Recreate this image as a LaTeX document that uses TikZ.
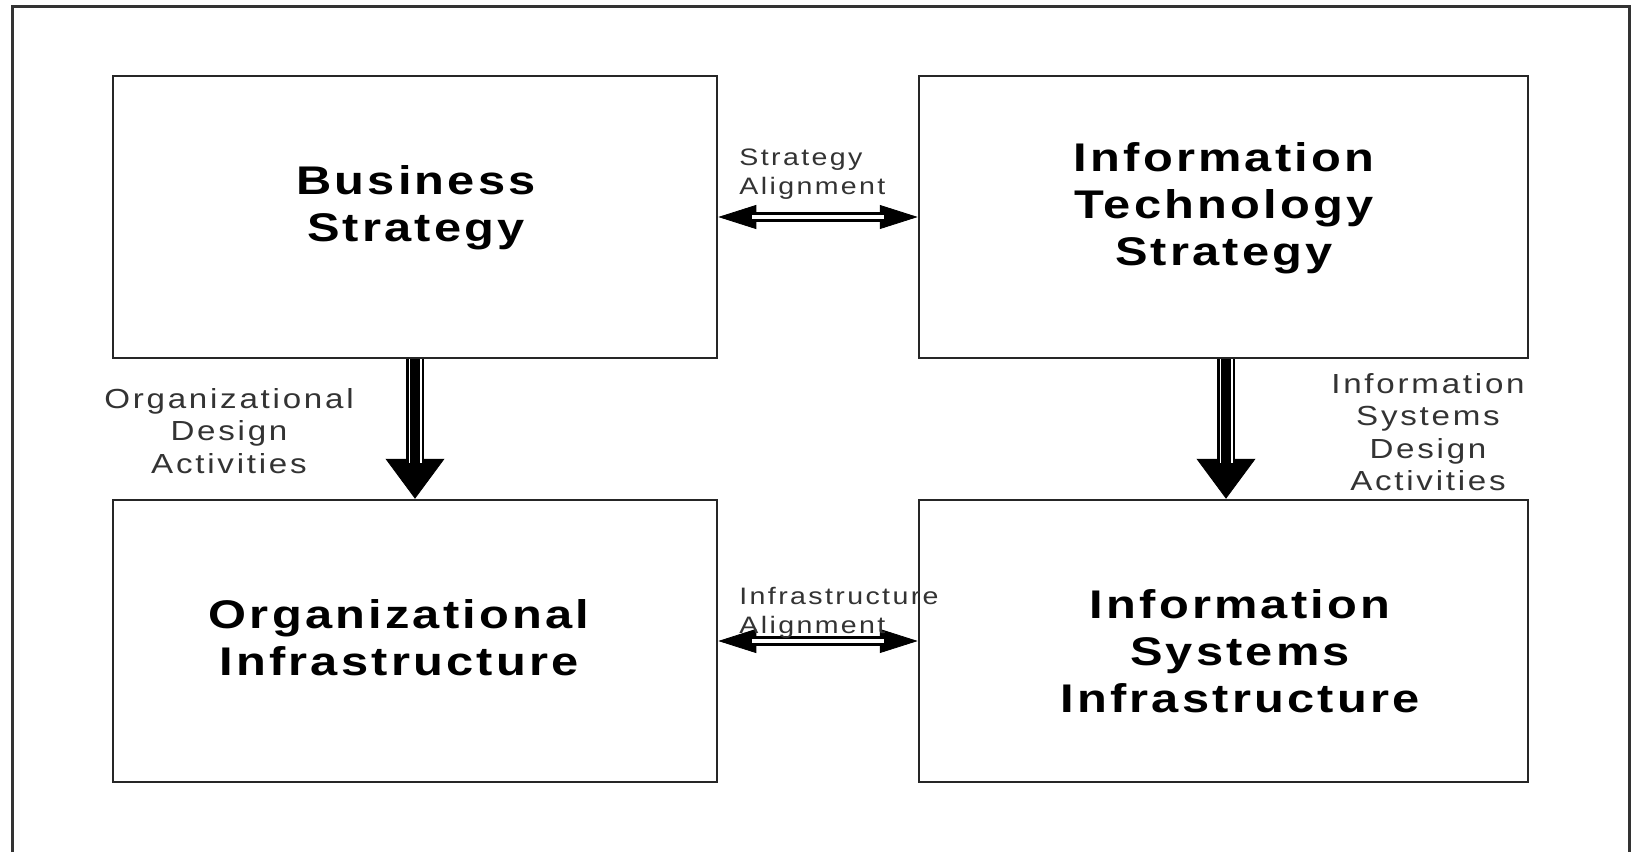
\documentclass[tikz,border=0pt]{standalone}
\usepackage{fontspec}
\setmainfont{Liberation Sans}
\newfontfamily\titlefont{Liberation Sans}[FakeStretch=1.22, LetterSpace=8]
\newfontfamily\labelfont{Liberation Sans}[FakeStretch=1.2, LetterSpace=10]
\usetikzlibrary{arrows.meta}

\tikzset{
  box/.style={draw=black!85, line width=1.25pt, minimum height=141pt, inner sep=0pt},
  title/.style={align=center, inner sep=0pt, font=\titlefont\bfseries\fontsize{20}{23.5}\selectfont},
  lbl/.style={inner sep=0pt, text=black!80, font=\labelfont\fontsize{13.8}{16.2}\selectfont},
  alnlbl/.style={inner sep=0pt, text=black!80, align=left, anchor=west,
                 font=\labelfont\fontsize{11.9}{14.3}\selectfont},
  htip/.style={line width=0.4pt, {Triangle[length=19pt,width=12pt]}-{Triangle[length=19pt,width=12pt]}},
  hshaft/.style={draw=black, line width=1.375pt, double=white, double distance=2.25pt,
                 shorten <=17pt, shorten >=17pt},
  vtip/.style={line width=0.4pt, -{Triangle[length=20pt,width=29.5pt]}},
  vouter/.style={draw=black, line width=1.2pt, double=white, double distance=6.5pt, shorten >=18pt},
  vinner/.style={draw=black, line width=4.8pt, shorten >=18pt}
}

\begin{document}
\begin{tikzpicture}[x=0.5pt, y=-0.5pt]
  \useasboundingbox (0,0) rectangle (1634,852);
  \fill[white] (0,0) rectangle (1634,852);

  % outer frame, open at the bottom edge
  \draw[black!80, line width=1.5pt] (12,852) -- (12,6) -- (1629,6) -- (1629,852);

  % the four domains
  \node[box, minimum width=302pt]   (bs)  at (415,217)    {};
  \node[box, minimum width=304.5pt] (its) at (1223.5,217) {};
  \node[box, minimum width=302pt]   (oi)  at (415,641)    {};
  \node[box, minimum width=304.5pt] (isi) at (1223.5,641) {};

  \node[title] (bst)  at (416,208)  {Business\\Strategy};
  \node[title] (itst) at (1224,208) {Information\\Technology\\Strategy};
  \node[title] (oit)  at (399,638)  {Organizational\\Infrastructure};
  \node[title] (isit) at (1240,651) {Information\\Systems\\Infrastructure};

  % horizontal alignment links
  \draw[htip] (bs.east) -- (its.west);
  \draw[hshaft] (bs.east) -- (its.west);
  \draw[htip] (oi.east) -- (isi.west);
  \draw[hshaft] (oi.east) -- (isi.west);

  % vertical design links
  \draw[vtip] (bs.south) -- (oi.north);
  \draw[vouter] (bs.south) -- (oi.north);
  \draw[vinner] (bs.south) -- (oi.north);
  \draw[vtip] ([xshift=1.25pt]its.south) -- ([xshift=1.25pt]isi.north);
  \draw[vouter] ([xshift=1.25pt]its.south) -- ([xshift=1.25pt]isi.north);
  \draw[vinner] ([xshift=1.25pt]its.south) -- ([xshift=1.25pt]isi.north);

  % link labels
  \node[alnlbl] (sal) at (739,174) {Strategy\\Alignment};
  \node[alnlbl] (ial) at (739,613) {Infrastructure\\Alignment};
  \node[lbl, align=center] (odl)  at (229,431) {Organizational\\Design\\Activities};
  \node[lbl, align=center] (isdl) at (1428,432) {Information\\Systems\\Design\\Activities};
\end{tikzpicture}
\end{document}
